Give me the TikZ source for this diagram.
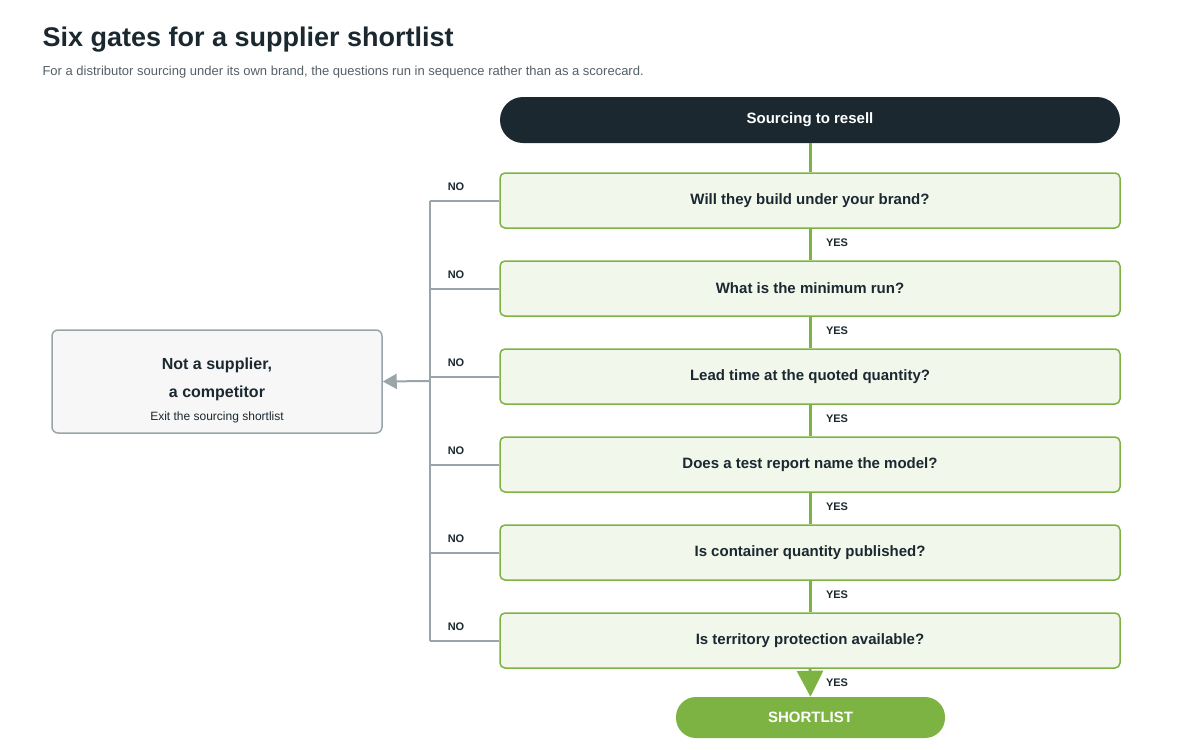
\documentclass[tikz,border=0pt]{standalone}
\usepackage{fontspec}
\setmainfont{Liberation Sans}
\usetikzlibrary{arrows.meta}
\definecolor{dark}{HTML}{1B2830}
\definecolor{grn}{HTML}{7CB342}
\definecolor{gfill}{HTML}{F2F7EC}
\definecolor{gline}{HTML}{9AA5A9}
\definecolor{sub}{HTML}{555F66}
\begin{document}
\begin{tikzpicture}[x=1pt,y=-1pt,
  gate/.style={draw=grn,line width=1.5pt,fill=gfill,rounded corners=5pt,minimum width=620pt,minimum height=55pt,font=\fontsize{15}{18}\selectfont\bfseries,text=dark},
  lbl/.style={font=\fontsize{11}{13}\selectfont\bfseries,text=dark},
  gl/.style={draw=gline,line width=2pt},
  gr/.style={draw=grn,line width=3pt}]
\useasboundingbox (0,0) rectangle (1200,750);
\node[anchor=west,font=\fontsize{27}{32}\selectfont\bfseries,text=dark] (title) at (39,40) {Six gates for a supplier shortlist};
\node[anchor=west,font=\fontsize{13}{16}\selectfont,text=sub] (subt) at (39,72) {For a distributor sourcing under its own brand, the questions run in sequence rather than as a scorecard.};
\node[fill=dark,rounded corners=23pt,minimum width=620pt,minimum height=46pt,text=white,font=\fontsize{15}{18}\selectfont\bfseries] (top) at (810,120) {Sourcing to resell};
\node[gate] (g1) at (810,200.5) {Will they build under your brand?};
\node[gate] (g2) at (810,288.5) {What is the minimum run?};
\node[gate] (g3) at (810,376.5) {Lead time at the quoted quantity?};
\node[gate] (g4) at (810,464.5) {Does a test report name the model?};
\node[gate] (g5) at (810,552.5) {Is container quantity published?};
\node[gate] (g6) at (810,640.5) {Is territory protection available?};
\node[fill=grn,rounded corners=20pt,minimum width=269pt,minimum height=41pt,text=white,font=\fontsize{15}{18}\selectfont\bfseries] (sl) at (810.5,717.5) {SHORTLIST};
\draw[gr] (top.south) -- (g1.north);
\draw[gr] (g1.south) -- (g2.north);
\draw[gr] (g2.south) -- (g3.north);
\draw[gr] (g3.south) -- (g4.north);
\draw[gr] (g4.south) -- (g5.north);
\draw[gr] (g5.south) -- (g6.north);
\draw[gr,-{Triangle[length=26pt,width=26pt]}] (g6.south) -- (sl.north);
\foreach \y/\n in {243/1,331/2,419/3,507/4,595/5,683/6}{\node[lbl] (yes\n) at (837,\y) {YES};}
\node[draw=gline,line width=1.5pt,fill=gray!6,rounded corners=6pt,minimum width=330pt,minimum height=103pt] (nc) at (217,381.5) {};
\node[font=\fontsize{16}{28}\selectfont\bfseries,text=dark,align=center] (nct) at (217,379) {Not a supplier,\\a competitor};
\node[font=\fontsize{12}{14}\selectfont,text=dark] (ncs) at (217,417) {Exit the sourcing shortlist};
\coordinate (t) at (430,200.5);
\coordinate (b) at (430,640.5);
\coordinate (m) at (430,381);
\draw[gl] (t) -- (b);
\foreach \g/\y/\n in {g1/200.5/1,g2/288.5/2,g3/376.5/3,g4/464.5/4,g5/552.5/5,g6/640.5/6}{
  \draw[gl] (\g.west) -- (430,\y);
  \node[lbl] (no\n) at (456,\y-13.5) {NO};}
\draw[gl,-{Triangle[length=14pt,width=15pt]}] (m) -- (nc.east);
\end{tikzpicture}
\end{document}
